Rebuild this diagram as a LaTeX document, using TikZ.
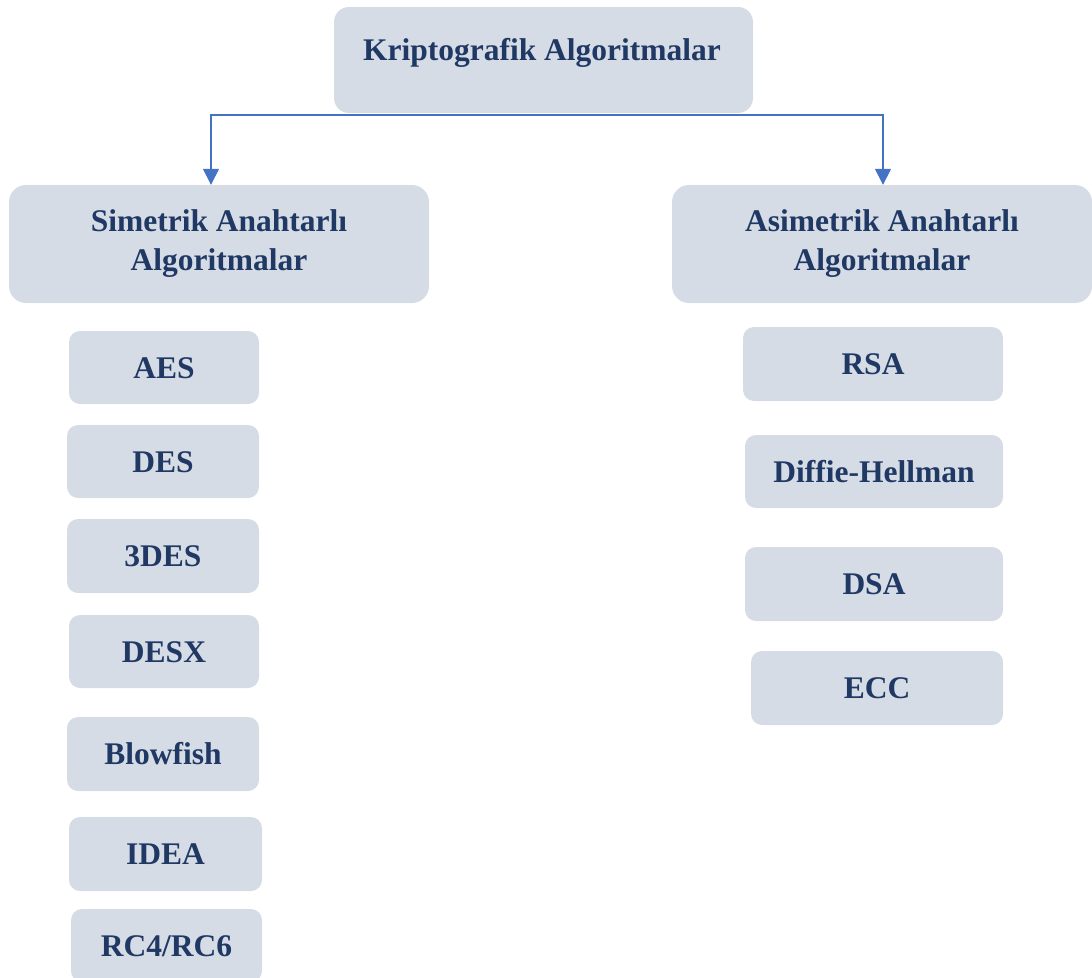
\documentclass[tikz,border=0pt]{standalone}
\usepackage{fontspec}
\setmainfont{Liberation Serif}
\usetikzlibrary{arrows.meta}
\definecolor{boxfill}{RGB}{214,220,229}
\definecolor{txtcol}{RGB}{31,56,100}
\definecolor{linecol}{RGB}{68,114,196}
\tikzset{
  bigbox/.style={rectangle, fill=boxfill, rounded corners=17pt, inner sep=0pt,
    minimum width=420pt, minimum height=118pt, align=center,
    font=\fontsize{31.5}{39}\selectfont\bfseries, text=txtcol},
  smallbox/.style={rectangle, fill=boxfill, rounded corners=11pt, inner sep=0pt,
    minimum height=73pt, text height=21pt, text depth=0pt,
    font=\fontsize{31.5}{39}\selectfont\bfseries, text=txtcol},
  lbl/.style={anchor=base, inner sep=0pt, font=\fontsize{31.5}{39}\selectfont\bfseries, text=txtcol},
  conn/.style={draw=linecol, line width=1.5pt, -{Triangle[width=16pt,length=16pt]}}
}
\begin{document}
\begin{tikzpicture}[x=1pt,y=-1pt]
\useasboundingbox (0,0) rectangle (1092,977);
\clip (0,0) rectangle (1092,977);
% top box
\node[rectangle, fill=boxfill, rounded corners=15pt, minimum width=419pt, minimum height=106pt, inner sep=0pt] (top) at (543.5,60) {};
\node[lbl] (toptxt) at (542,60) {Kriptografik Algoritmalar};
% category boxes
\node[bigbox] (sim) at (219,244) {Simetrik Anahtarlı\\Algoritmalar};
\node[bigbox] (asim) at (882,244) {Asimetrik Anahtarlı\\Algoritmalar};
% connectors
\coordinate (hub) at (543.5,115);
\draw[conn] (hub) -| ([xshift=-8pt]sim.north);
\draw[conn] (hub) -| ([xshift=1pt]asim.north);
% symmetric list
\node[smallbox, minimum width=190pt] (aes) at (164,367.5) {AES};
\node[smallbox, minimum width=192pt] (des) at (163,461.5) {DES};
\node[smallbox, minimum width=192pt, minimum height=74pt] (tdes) at (163,556) {3DES};
\node[smallbox, minimum width=190pt] (desx) at (164,651.5) {DESX};
\node[smallbox, minimum width=192pt, minimum height=74pt] (blow) at (163,754) {Blowfish};
\node[smallbox, minimum width=193pt, minimum height=74pt] (idea) at (165.5,854) {IDEA};
\node[smallbox, minimum width=191pt] (rc) at (166.5,945.5) {RC4/RC6};
% asymmetric list
\node[smallbox, minimum width=260pt, minimum height=74pt] (rsa) at (873,364) {RSA};
\node[smallbox, minimum width=258pt] (dh) at (874,471.5) {Diffie-Hellman};
\node[smallbox, minimum width=258pt, minimum height=74pt] (dsa) at (874,584) {DSA};
\node[smallbox, minimum width=252pt, minimum height=74pt] (ecc) at (877,688) {ECC};
\end{tikzpicture}
\end{document}
